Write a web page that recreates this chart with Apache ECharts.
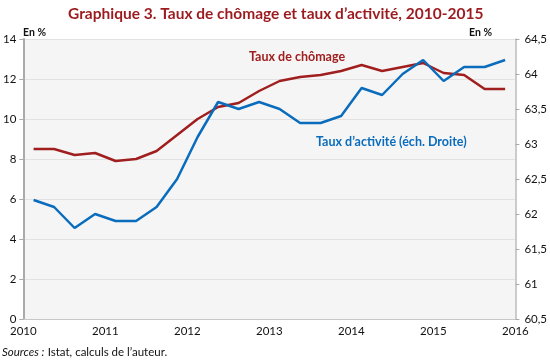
<!DOCTYPE html>
<html>
<head>
<meta charset="utf-8">
<script src="https://cdn.jsdelivr.net/npm/echarts@6/dist/echarts.min.js"></script>
<style>html,body{margin:0;padding:0;background:#fff}#c{width:550px;height:363px}</style>
</head>
<body>
<div id="c"></div>
<script>
// Quarterly observations, 2010 Q1 .. 2015 Q4 (plotted at mid-quarter)
var quarters = ['2010T1','2010T2','2010T3','2010T4','2011T1','2011T2','2011T3','2011T4',
  '2012T1','2012T2','2012T3','2012T4','2013T1','2013T2','2013T3','2013T4',
  '2014T1','2014T2','2014T3','2014T4','2015T1','2015T2','2015T3','2015T4'];
var chomage = [8.5,8.5,8.2,8.3,7.9,8.0,8.4,9.2,10.0,10.6,10.8,11.4,11.9,12.1,12.2,12.4,12.7,12.4,12.6,12.8,12.3,12.2,11.5,11.5];
var activite = [62.2,62.1,61.8,62.0,61.9,61.9,62.1,62.5,63.1,63.6,63.5,63.6,63.5,63.3,63.3,63.4,63.8,63.7,64.0,64.2,63.9,64.1,64.1,64.2];
var leftTicks = [0,2,4,6,8,10,12,14];
var rightTicks = ['60,5','61','61,5','62','62,5','63','63,5','64','64,5'];

function qx(label){ var y = parseInt(label.slice(0,4),10); var q = parseInt(label.slice(5),10); return y + (q-1)*0.25 + 0.125; }
var redData = quarters.map(function(q,i){ return [qx(q), chomage[i]]; });
var blueData = quarters.map(function(q,i){ return [qx(q), activite[i]]; });

var RED = '#a01e1e', BLUE = '#0a6cbc';
var FONT = 'Lato, "Open Sans", sans-serif';
var chart = echarts.init(document.getElementById('c'), null, {renderer:'canvas'});
chart.setOption({
  animation:false,
  backgroundColor:'#fff',
  textStyle:{fontFamily:FONT},
  title:{text:'Graphique 3. Taux de chômage et taux d\u2019activité, 2010-2015', left:63, top:1,
    textStyle:{color:'#9b1b1f', fontSize:15.5, fontWeight:'bold', fontFamily:FONT}},
  grid:{left:22, right:33, top:39, bottom:44, show:true, backgroundColor:'#f5f5f5', borderWidth:0},
  xAxis:{type:'value', min:2010, max:2016, interval:1,
    axisLine:{show:true, lineStyle:{color:'#c8c8c8', width:1}},
    axisTick:{show:false}, splitLine:{show:false},
    axisLabel:{color:'#111', fontSize:11.5, margin:6, formatter:function(v){return String(v);}}},
  yAxis:[
    {type:'value', min:0, max:14, interval:2, position:'left',
      axisLine:{show:true, lineStyle:{color:'#aaaaaa', width:2}},
      axisTick:{show:true, length:4, lineStyle:{color:'#aaaaaa'}},
      splitLine:{show:true, lineStyle:{color:'#e2e2e2', width:1}},
      axisLabel:{color:'#111', fontSize:11.5, margin:7, formatter:function(v){return leftTicks.indexOf(v)>=0?String(v):'';}}},
    {type:'value', min:60.5, max:64.5, interval:0.5, position:'right',
      axisLine:{show:true, lineStyle:{color:'#bbbbbb', width:1.5}},
      axisTick:{show:true, length:4, lineStyle:{color:'#aaaaaa'}},
      splitLine:{show:false},
      axisLabel:{color:'#111', fontSize:11.5, margin:9, formatter:function(v){var i=Math.round((v-60.5)/0.5);return rightTicks[i]||'';}}}
  ],
  series:[
    {name:'Taux de chômage', type:'line', yAxisIndex:0, data:redData, symbol:'none',
      lineStyle:{color:RED, width:2.5}},
    {name:'Taux d\u2019activité', type:'line', yAxisIndex:1, data:blueData, symbol:'none',
      lineStyle:{color:BLUE, width:2.5}}
  ],
  graphic:[
    {type:'text', left:23, top:27, style:{text:'En %', fill:'#111', font:'bold 10.5px '+FONT}},
    {type:'text', left:469, top:27, style:{text:'En %', fill:'#111', font:'bold 10.5px '+FONT}},
    {type:'text', left:249, top:50, style:{text:'Taux de chômage', fill:RED, font:'bold 12.5px '+FONT}},
    {type:'text', left:316, top:135, style:{text:'Taux d\u2019activité (éch. Droite)', fill:BLUE, font:'bold 12.5px '+FONT}},
    {type:'text', left:2, top:346, style:{rich:{i:{fontStyle:'italic', fontSize:11.5, fontFamily:FONT, fill:'#111'}, n:{fontSize:11.5, fontFamily:FONT, fill:'#111'}},
      text:'{i|Sources :} {n|Istat, calculs de l\u2019auteur.}'}}
  ]
});
</script>
</body>
</html>
